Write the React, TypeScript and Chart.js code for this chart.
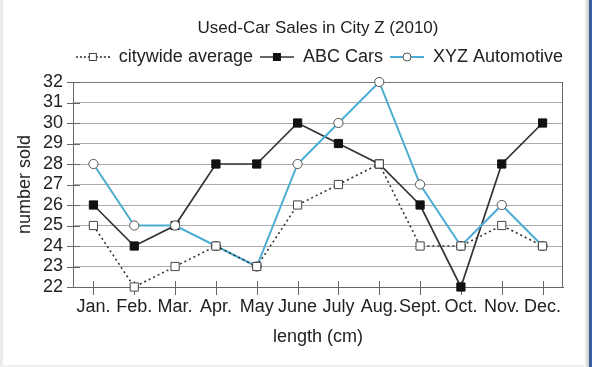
import React, { useEffect, useRef } from 'react';
import { Chart, registerables } from 'chart.js';

Chart.register(...registerables);

const MONTHS = ['Jan.', 'Feb.', 'Mar.', 'Apr.', 'May', 'June', 'July', 'Aug.', 'Sept.', 'Oct.', 'Nov.', 'Dec.'];
const CITYWIDE = [25, 22, 23, 24, 23, 26, 27, 28, 24, 24, 25, 24];
const ABC_CARS = [26, 24, 25, 28, 28, 30, 29, 28, 26, 22, 28, 30];
const XYZ_AUTO = [28, 25, 25, 24, 23, 28, 30, 32, 27, 24, 26, 24];
const SERIES_NAMES = ['citywide average', 'ABC Cars', 'XYZ Automotive'];
const Y_MIN = 22;
const Y_MAX = 32;

const FONT = "'Liberation Sans', Arial, Helvetica, sans-serif";
const TEXT = '#222222';
const BLUE = '#4badd1';

function makeIcon(kind: number): HTMLCanvasElement {
  const c = document.createElement('canvas');
  c.width = 34;
  c.height = 12;
  const g = c.getContext('2d')!;
  g.lineWidth = kind === 2 ? 2 : 1.6;
  g.strokeStyle = kind === 2 ? BLUE : '#333';
  if (kind === 0) g.setLineDash([2, 2]);
  g.beginPath();
  g.moveTo(0, 6);
  g.lineTo(34, 6);
  g.stroke();
  g.setLineDash([]);
  g.lineWidth = 1;
  if (kind === 0) {
    g.fillStyle = '#fff';
    g.strokeStyle = '#444';
    g.fillRect(13, 2, 8, 8);
    g.strokeRect(13.5, 2.5, 7, 7);
  } else if (kind === 1) {
    g.fillStyle = '#111';
    g.fillRect(13, 2, 8, 8);
  } else {
    g.fillStyle = '#fff';
    g.strokeStyle = '#555';
    g.beginPath();
    g.arc(17, 6, 4, 0, Math.PI * 2);
    g.fill();
    g.stroke();
  }
  return c;
}

const crossTicks = {
  id: 'crossTicks',
  beforeDatasetsDraw(chart: any) {
    const { ctx, chartArea, scales } = chart;
    const x = scales.x;
    const y = scales.y;
    ctx.save();
    ctx.strokeStyle = '#666';
    ctx.lineWidth = 1;
    ctx.beginPath();
    const r = Math.round(chartArea.right) - 0.5;
    ctx.moveTo(r, chartArea.top);
    ctx.lineTo(r, chartArea.bottom);
    y.ticks.forEach((_t: any, i: number) => {
      const py = Math.round(y.getPixelForTick(i)) + 0.5;
      ctx.moveTo(chartArea.left - 6, py);
      ctx.lineTo(chartArea.left + 7, py);
    });
    x.ticks.forEach((_t: any, i: number) => {
      const px = Math.round(x.getPixelForTick(i)) + 0.5;
      ctx.moveTo(px, chartArea.bottom - 6);
      ctx.lineTo(px, chartArea.bottom + 8);
    });
    ctx.stroke();
    ctx.restore();
  },
};

export default function App() {
  const ref = useRef<HTMLCanvasElement | null>(null);

  useEffect(() => {
    if (!ref.current) return;
    Chart.defaults.font.family = FONT;
    Chart.defaults.color = TEXT;
    const icons = [makeIcon(0), makeIcon(1), makeIcon(2)];
    const chart = new Chart(ref.current, {
      type: 'line',
      data: {
        labels: MONTHS,
        datasets: [
          {
            label: SERIES_NAMES[0],
            data: CITYWIDE,
            borderColor: '#333',
            borderWidth: 1.6,
            borderDash: [2, 3],
            pointStyle: 'rect',
            pointRadius: 5.8,
            pointBackgroundColor: '#fff',
            pointBorderColor: '#444',
            pointBorderWidth: 1,
            clip: false,
            order: 0,
          },
          {
            label: SERIES_NAMES[1],
            data: ABC_CARS,
            borderColor: '#333',
            borderWidth: 1.7,
            pointStyle: 'rect',
            pointRadius: 5.8,
            pointBackgroundColor: '#111',
            pointBorderColor: '#111',
            pointBorderWidth: 1,
            clip: false,
            order: 2,
          },
          {
            label: SERIES_NAMES[2],
            data: XYZ_AUTO,
            borderColor: BLUE,
            borderWidth: 2,
            pointStyle: 'circle',
            pointRadius: 4.6,
            pointBackgroundColor: '#fff',
            pointBorderColor: '#555',
            pointBorderWidth: 1,
            clip: false,
            order: 1,
          },
        ],
      },
      options: {
        responsive: false,
        animation: false,
        layout: { padding: { left: 10, right: 22, top: 0, bottom: 15.2 } },
        plugins: {
          tooltip: { enabled: false },
          title: {
            display: true,
            fullSize: false,
            text: 'Used-Car Sales in City Z (2010)',
            color: TEXT,
            font: { size: 17, weight: 'normal', family: FONT },
            padding: { top: 17.8, bottom: 2.8 },
          },
          legend: {
            display: true,
            fullSize: true,
            align: 'end',
            labels: {
              color: TEXT,
              font: { size: 18, family: FONT },
              usePointStyle: true,
              pointStyleWidth: 34,
              padding: 7,
              sort: (a: any, b: any) => a.datasetIndex - b.datasetIndex,
              generateLabels: (ch: any) => {
                const items = Chart.defaults.plugins.legend.labels.generateLabels(ch);
                return items.map((it: any) => ({ ...it, pointStyle: icons[it.datasetIndex] }));
              },
            },
          },
        },
        scales: {
          x: {
            type: 'category',
            offset: true,
            grid: {
              display: true,
              drawOnChartArea: false,
              drawTicks: true,
              tickLength: 7,
              tickColor: 'transparent',
            },
            border: { display: true, color: '#666', width: 1 },
            ticks: { color: TEXT, font: { size: 18, family: FONT }, padding: 2, maxRotation: 0, autoSkip: false },
            title: {
              display: true,
              text: 'length (cm)',
              color: TEXT,
              font: { size: 18, family: FONT },
              padding: { top: 4, bottom: 4 },
            },
            afterFit: (s: any) => {
              s.height = 64.8;
            },
          },
          xTop: {
            type: 'category',
            position: 'top',
            display: true,
            grid: { display: false, drawTicks: false },
            border: { display: false },
            ticks: { display: false },
            afterFit: (s: any) => {
              s.height = 6;
            },
          },
          yRight: {
            type: 'linear',
            position: 'right',
            display: true,
            grid: { display: false, drawTicks: false },
            border: { display: false },
            ticks: { display: false },
            afterFit: (s: any) => {
              s.width = 7;
            },
          },
          y: {
            min: Y_MIN,
            max: Y_MAX,
            grid: {
              color: (c: any) => (c.tick && c.tick.value === Y_MAX ? '#787878' : '#acacac'),
              lineWidth: 1,
              drawTicks: true,
              tickLength: 7,
              tickColor: 'transparent',
            },
            border: { display: true, color: '#666', width: 1 },
            ticks: { stepSize: 1, autoSkip: false, color: TEXT, font: { size: 18, family: FONT }, padding: 3 },
            title: {
              display: true,
              text: 'number sold',
              color: TEXT,
              font: { size: 18, family: FONT },
              padding: { top: 4, bottom: 4 },
            },
            afterFit: (s: any) => {
              s.width = 63;
            },
          },
        },
      },
      plugins: [crossTicks],
    } as any);
    return () => chart.destroy();
  }, []);

  return (
    <div style={{ position: 'fixed', left: 0, top: 0, width: 592, height: 367, background: '#fff', overflow: 'hidden' }}>
      <canvas ref={ref} width={592} height={367} style={{ display: 'block', width: 592, height: 367 }} />
      <div style={{ position: 'absolute', left: 0, top: 0, width: 3, height: 367, background: '#ececec' }} />
      <div style={{ position: 'absolute', left: 0, top: 365, width: 592, height: 2, background: '#efefef' }} />
      <div
        style={{
          position: 'absolute',
          left: 584,
          top: 0,
          width: 5,
          height: 367,
          background: 'linear-gradient(to right, #ffffff, #c8c8c8)',
        }}
      />
      <div style={{ position: 'absolute', left: 589, top: 0, width: 3, height: 367, background: '#3b5d9b' }} />
    </div>
  );
}
